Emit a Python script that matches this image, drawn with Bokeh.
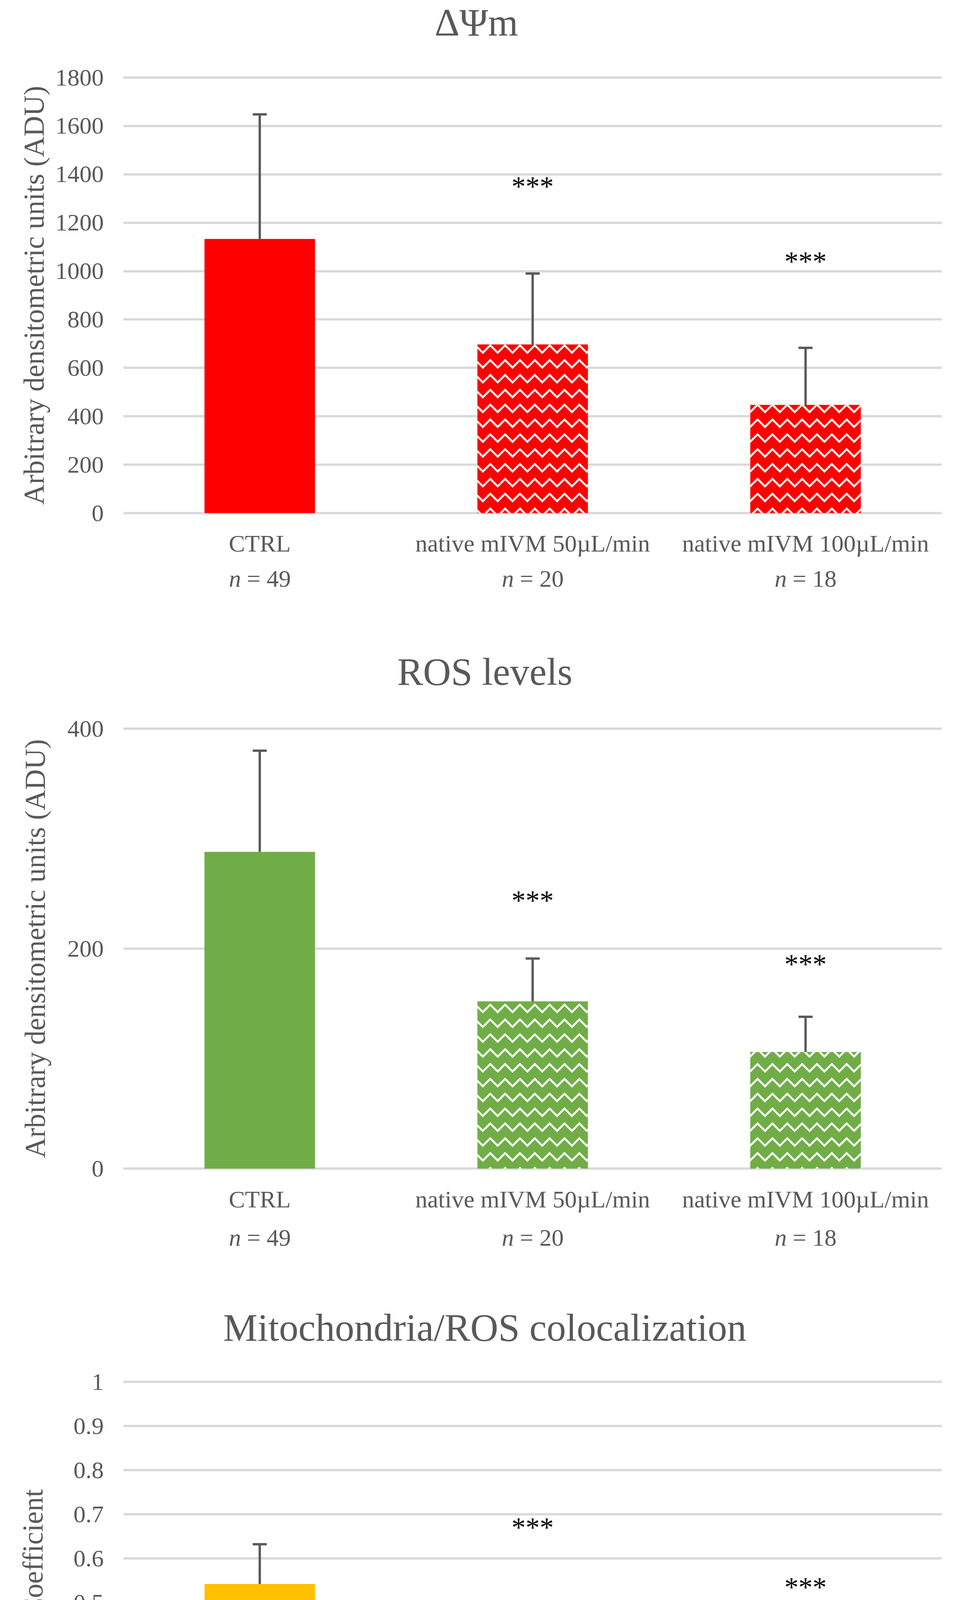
from bokeh.plotting import figure
from bokeh.layouts import column
from bokeh.models import (Range1d, FixedTicker, Whisker, TeeHead,
                          ColumnDataSource)
from bokeh.core.properties import value
from bokeh.embed import file_html
from bokeh.resources import INLINE

# ---------------- data ----------------
categories = ["CTRL", "native mIVM 50\u00b5L/min", "native mIVM 100\u00b5L/min"]
n_counts = ["49", "20", "18"]
patterns = [" ", "horizontal_wave", "horizontal_wave"]

dpsi_mean = [1133, 697, 447]
dpsi_err = [515, 293, 236]
dpsi_star = ["", "***", "***"]
dpsi_star_y = [0, 1350, 1040]
dpsi_ticks = [0, 200, 400, 600, 800, 1000, 1200, 1400, 1600, 1800]
dpsi_tick_labels = ["0", "200", "400", "600", "800", "1000", "1200", "1400", "1600", "1800"]

ros_mean = [288, 152, 106]
ros_err = [92, 39, 32]
ros_star = ["", "***", "***"]
ros_star_y = [0, 244, 186]
ros_ticks = [0, 200, 400]
ros_tick_labels = ["0", "200", "400"]

coloc_mean = [0.542, 0.426, 0.310]
coloc_err = [0.090, 0.064, 0.065]
coloc_star = ["", "***", "***"]
coloc_star_y = [0, 0.670, 0.535]
coloc_ticks = [0, 0.1, 0.2, 0.3, 0.4, 0.5, 0.6, 0.7, 0.8, 0.9, 1.0]
coloc_tick_labels = ["0", "0.1", "0.2", "0.3", "0.4", "0.5", "0.6", "0.7", "0.8", "0.9", "1"]

# ---------------- style ----------------
FONT = "Liberation Serif"
TXT = "#595959"
GRID = "#D9D9D9"
FIG_W = 2461


def make_chart(title, ylabel, means, errs, stars, star_y, ticks, tick_labels,
               color, fig_h, top_line, b_left, plot_h, frame_w, ext,
               title_dx, title_mid, lab_standoff, cat_off1, cat_off2):
    """top_line: px from the figure top to the top gridline;
    plot_h: px between the 0 line and the top gridline;
    ext: px of extra frame above the top line and below the 0 line
    (room for the title and the category labels)."""
    ymax = ticks[-1]
    upp = ymax / plot_h                       # data units per pixel
    frame_h = plot_h + 2 * ext
    top_b = top_line - ext
    bot_b = fig_h - top_b - frame_h
    p = figure(width=FIG_W, height=fig_h, output_backend="svg",
               toolbar_location=None, x_axis_type=None,
               x_range=Range1d(0, len(categories)),
               y_range=Range1d(-ext * upp, ymax + ext * upp),
               min_border_top=top_b, min_border_left=b_left,
               min_border_right=FIG_W - b_left - frame_w,
               min_border_bottom=bot_b)
    p.outline_line_color = None
    p.background_fill_color = "white"
    p.border_fill_color = "white"
    p.xgrid.visible = False

    # y axis
    yt = FixedTicker(ticks=ticks)
    ax = p.yaxis[0]
    ax.ticker = yt
    ax.major_label_overrides = {t: l for t, l in zip(ticks, tick_labels)}
    ax.axis_line_color = None
    ax.major_tick_line_color = None
    ax.minor_tick_line_color = None
    ax.major_tick_out = 0
    ax.major_label_standoff = 50
    ax.major_label_text_font = FONT
    ax.major_label_text_font_size = "62px"
    ax.major_label_text_color = TXT
    ax.axis_label = ylabel
    ax.axis_label_text_font = FONT
    ax.axis_label_text_font_size = "73px"
    ax.axis_label_text_font_style = "normal"
    ax.axis_label_text_color = TXT
    ax.axis_label_standoff = lab_standoff

    p.ygrid.ticker = yt
    p.ygrid.grid_line_color = GRID
    p.ygrid.grid_line_width = 6

    xs = [i + 0.5 for i in range(len(categories))]
    ncat = len(categories)

    src = ColumnDataSource(dict(x=xs, top=means,
                                upper=[m + e for m, e in zip(means, errs)],
                                hatch=patterns))
    p.vbar(x="x", top="top", bottom=0, width=0.405, source=src,
           fill_color=color, line_color=None,
           hatch_pattern="hatch", hatch_color="white",
           hatch_scale=38, hatch_weight=5, hatch_alpha=1.0)

    wh = Whisker(base="x", lower="top", upper="upper", source=src,
                 dimension="height", line_color=TXT, line_width=6,
                 upper_head=TeeHead(size=36, line_color=TXT, line_width=6),
                 lower_head=None, level="annotation")
    p.add_layout(wh)

    # significance stars
    sx = [x for x, s in zip(xs, stars) if s]
    sy = [y for y, s in zip(star_y, stars) if s]
    st = [s for s in stars if s]
    p.text(x=sx, y=sy, text=st, text_align="center", text_baseline="middle",
           text_font=value(FONT), text_font_size="72px", text_color="black")

    # title (inside the extended frame, above the top gridline)
    p.text(x=[ncat / 2 + title_dx * ncat / frame_w],
           y=[ymax + title_mid * upp], text=[title],
           text_align="center", text_baseline="middle",
           text_font=value(FONT), text_font_size="99px", text_color=TXT)

    # category labels, two lines, italic n
    p.text(x=xs, y=[-cat_off1 * upp] * ncat, text=categories,
           text_align="center", text_baseline="middle",
           text_font=value(FONT), text_font_size="62px", text_color=TXT)
    p.text(x=xs, y=[-cat_off2 * upp] * ncat, text=["n"] * ncat,
           x_offset=-48, text_align="right", text_baseline="middle",
           text_font=value(FONT), text_font_style="italic",
           text_font_size="62px", text_color=TXT)
    p.text(x=xs, y=[-cat_off2 * upp] * ncat, text=["= " + n for n in n_counts],
           x_offset=-33, text_align="left", text_baseline="middle",
           text_font=value(FONT), text_font_size="62px", text_color=TXT)
    return p


p1 = make_chart("\u0394\u03a8m", "Arbitrary densitometric units (ADU)",
                dpsi_mean, dpsi_err, dpsi_star, dpsi_star_y,
                dpsi_ticks, dpsi_tick_labels, "#FF0000",
                fig_h=1612, top_line=198, b_left=315, plot_h=1115,
                frame_w=2095, ext=195,
                title_dx=-144, title_mid=141, lab_standoff=11,
                cat_off1=77, cat_off2=167)
p2 = make_chart("ROS levels", "Arbitrary densitometric units (ADU)",
                ros_mean, ros_err, ros_star, ros_star_y,
                ros_ticks, ros_tick_labels, "#70AD47",
                fig_h=1670, top_line=253, b_left=287, plot_h=1126,
                frame_w=2123, ext=204,
                title_dx=-124, title_mid=146, lab_standoff=39,
                cat_off1=78, cat_off2=176)
p3 = make_chart("Mitochondria/ROS colocalization", "Overlap Coefficient",
                coloc_mean, coloc_err, coloc_star, coloc_star_y,
                coloc_ticks, coloc_tick_labels, "#FFC000",
                fig_h=1590, top_line=255, b_left=272, plot_h=1130,
                frame_w=2138, ext=185,
                title_dx=-125, title_mid=139, lab_standoff=60,
                cat_off1=72, cat_off2=146)

layout = column(p1, p2, p3, spacing=0)
open("out.html", "w").write(file_html(layout, INLINE))
